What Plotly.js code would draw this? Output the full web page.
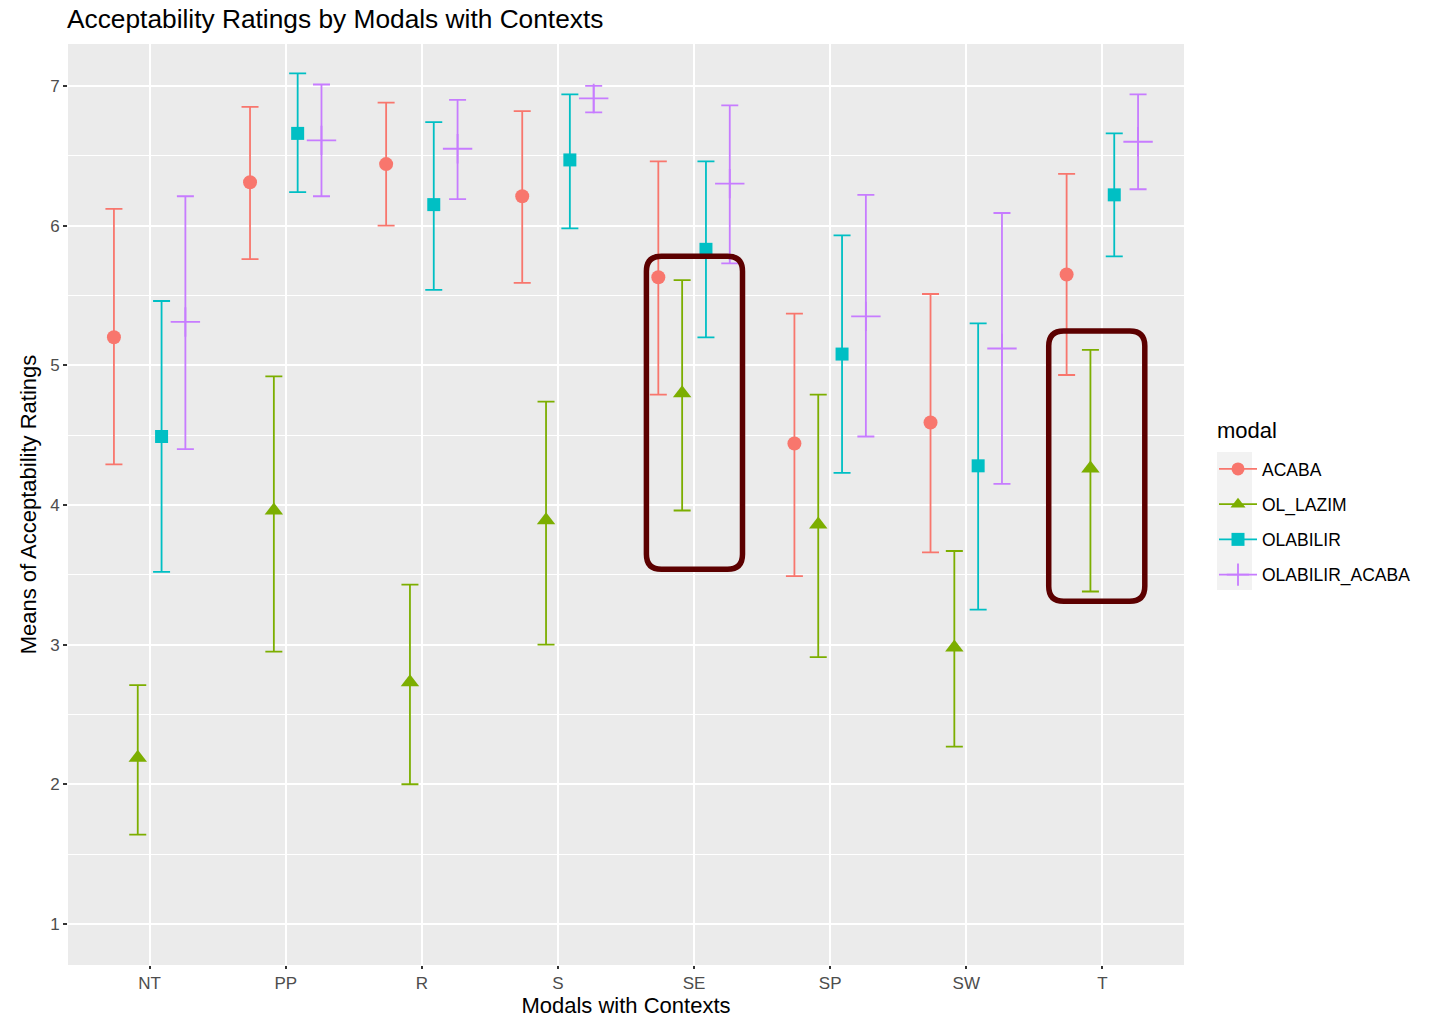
<!DOCTYPE html>
<html>
<head>
<meta charset="utf-8">
<script src="https://cdn.plot.ly/plotly-3.0.1.min.js"></script>
<style>html,body{margin:0;padding:0;background:#fff;}#chart{width:1433px;height:1018px;}</style>
</head>
<body>
<div id="chart"></div>
<script>
const categories = ['NT','PP','R','S','SE','SP','SW','T'];
const seriesNames = ['ACABA','OL_LAZIM','OLABILIR','OLABILIR_ACABA'];

const acabaMean  = [5.20, 6.31, 6.44, 6.21, 5.63, 4.44, 4.59, 5.65];
const acabaUpper = [6.12, 6.85, 6.88, 6.82, 6.46, 5.37, 5.51, 6.37];
const acabaLower = [4.29, 5.76, 6.00, 5.59, 4.79, 3.49, 3.66, 4.93];

const olLazimMean  = [2.19, 3.96, 2.73, 3.89, 4.80, 3.86, 2.98, 4.26];
const olLazimUpper = [2.71, 4.92, 3.43, 4.74, 5.61, 4.79, 3.67, 5.11];
const olLazimLower = [1.64, 2.95, 2.00, 3.00, 3.96, 2.91, 2.27, 3.38];

const olabilirMean  = [4.49, 6.66, 6.15, 6.47, 5.83, 5.08, 4.28, 6.22];
const olabilirUpper = [5.46, 7.09, 6.74, 6.94, 6.46, 5.93, 5.30, 6.66];
const olabilirLower = [3.52, 6.24, 5.54, 5.98, 5.20, 4.23, 3.25, 5.78];

const olabAcabaMean  = [5.31, 6.61, 6.55, 6.91, 6.30, 5.35, 5.12, 6.60];
const olabAcabaUpper = [6.21, 7.01, 6.90, 7.00, 6.86, 6.22, 6.09, 6.94];
const olabAcabaLower = [4.40, 6.21, 6.19, 6.81, 5.73, 4.49, 4.15, 6.26];

const yTicks = [1,2,3,4,5,6,7];

// highlight boxes (data units): [x0, x1, y0, y1]
const highlightBoxes = [
  [3.650, 4.356, 3.54, 5.78],
  [6.606, 7.312, 3.31, 5.245]
];

const means = [acabaMean, olLazimMean, olabilirMean, olabAcabaMean];
const uppers = [acabaUpper, olLazimUpper, olabilirUpper, olabAcabaUpper];
const lowers = [acabaLower, olLazimLower, olabilirLower, olabAcabaLower];
const colors = ['#F8766D', '#7CAE00', '#00BFC4', '#C77CFF'];
const symbols = ['circle', 'triangle-up', 'square', 'cross-thin'];
const sizes = [14, 16, 13, 21];
const dodge = 0.7;

const traces = [];
seriesNames.forEach((name, s) => {
  const off = -dodge/2 + dodge/8 + s*dodge/4;
  const xs = categories.map((c, i) => i + off);
  const m = means[s];
  traces.push({
    type: 'scatter', mode: 'markers', name: name, showlegend: false,
    x: xs, y: m,
    marker: {color: colors[s], symbol: symbols[s], size: sizes[s],
             line: {color: colors[s], width: s === 3 ? 1.8 : 0}},
    error_y: {type: 'data', symmetric: false,
              array: uppers[s].map((u, i) => u - m[i]),
              arrayminus: lowers[s].map((l, i) => m[i] - l),
              color: colors[s], thickness: 1.8, width: 8.5},
    hoverinfo: 'x+y'
  });
});
// legend-only entries (line + marker key like ggplot)
seriesNames.forEach((name, s) => {
  traces.push({
    type: 'scatter', mode: 'lines+markers', name: name, legendgroup: name,
    x: [null], y: [null],
    line: {color: colors[s], width: 1.8},
    marker: {color: colors[s], symbol: symbols[s], size: s === 3 ? 16 : 13,
             line: {color: colors[s], width: s === 3 ? 1.8 : 0}}
  });
});

const xPx = 1116 / 8.2, yPx = 921 / 6.6;
const r = 15;
const shapes = highlightBoxes.map(b => {
  const [x0, x1, y0, y1] = b;
  const rx = r / xPx, ry = r / yPx;
  const p = `M ${x0+rx},${y1} L ${x1-rx},${y1} Q ${x1},${y1} ${x1},${y1-ry} ` +
            `L ${x1},${y0+ry} Q ${x1},${y0} ${x1-rx},${y0} L ${x0+rx},${y0} ` +
            `Q ${x0},${y0} ${x0},${y0+ry} L ${x0},${y1-ry} Q ${x0},${y1} ${x0+rx},${y1} Z`;
  return {type: 'path', path: p, xref: 'x', yref: 'y', layer: 'above',
          line: {color: '#5C0000', width: 5.5}};
});
// legend key background
shapes.push({type: 'rect', xref: 'paper', yref: 'paper',
  x0: (1217-68)/1116, x1: (1252-68)/1116, y0: (965-590)/921, y1: (965-452)/921,
  fillcolor: '#F2F2F2', line: {width: 0}, layer: 'below'});

const font = 'Liberation Sans, Arial, Helvetica, sans-serif';
const layout = {
  width: 1433, height: 1018,
  margin: {l: 68, r: 249, t: 44, b: 53},
  paper_bgcolor: '#FFFFFF', plot_bgcolor: '#EBEBEB',
  font: {family: font, color: '#000'},
  title: {text: 'Acceptability Ratings by Modals with Contexts',
          x: 67/1433, xanchor: 'left', y: 1 - 19/1018, yanchor: 'middle',
          font: {size: 26.3, family: font, color: '#000'}},
  xaxis: {range: [-0.6, 7.6], tickmode: 'array', tickvals: categories.map((c,i)=>i),
          ticktext: categories, showgrid: true, gridcolor: '#FFFFFF', gridwidth: 2,
          zeroline: false, showline: false, ticks: 'outside', ticklen: 3, tickwidth: 2,
          tickcolor: '#333333', tickfont: {size: 17, color: '#4D4D4D', family: font},
          title: {text: 'Modals with Contexts', font: {size: 22, color: '#000', family: font}, standoff: 7}},
  yaxis: {range: [0.706, 7.30], tickmode: 'array', tickvals: yTicks,
          showgrid: true, gridcolor: '#FFFFFF', gridwidth: 2, zeroline: false, showline: false,
          ticks: 'outside', ticklen: 4, tickwidth: 2, tickcolor: '#333333',
          tickfont: {size: 17, color: '#4D4D4D', family: font},
          minor: {tickmode: 'array', tickvals: [0.5,1.5,2.5,3.5,4.5,5.5,6.5,7.5], showgrid: true, gridcolor: '#FFFFFF', gridwidth: 1, ticks: ''},
          title: {text: 'Means of Acceptability Ratings', font: {size: 22, color: '#000', family: font}, standoff: 7}},
  legend: {x: (1214-68)/1116, xanchor: 'left', y: (965-451)/921, yanchor: 'top',
           bgcolor: 'rgba(0,0,0,0)', font: {size: 17.5, color: '#000', family: font},
           traceorder: 'grouped', tracegroupgap: 9.5, itemwidth: 38},
  annotations: [{text: 'modal', xref: 'paper', yref: 'paper', showarrow: false,
                 x: (1215-68)/1116, xanchor: 'left', y: (965-431)/921, yanchor: 'middle',
                 font: {size: 22, color: '#000', family: font}}],
  shapes: shapes,
  showlegend: true
};

Plotly.newPlot('chart', traces, layout, {displayModeBar: false, staticPlot: true});
</script>
</body>
</html>
